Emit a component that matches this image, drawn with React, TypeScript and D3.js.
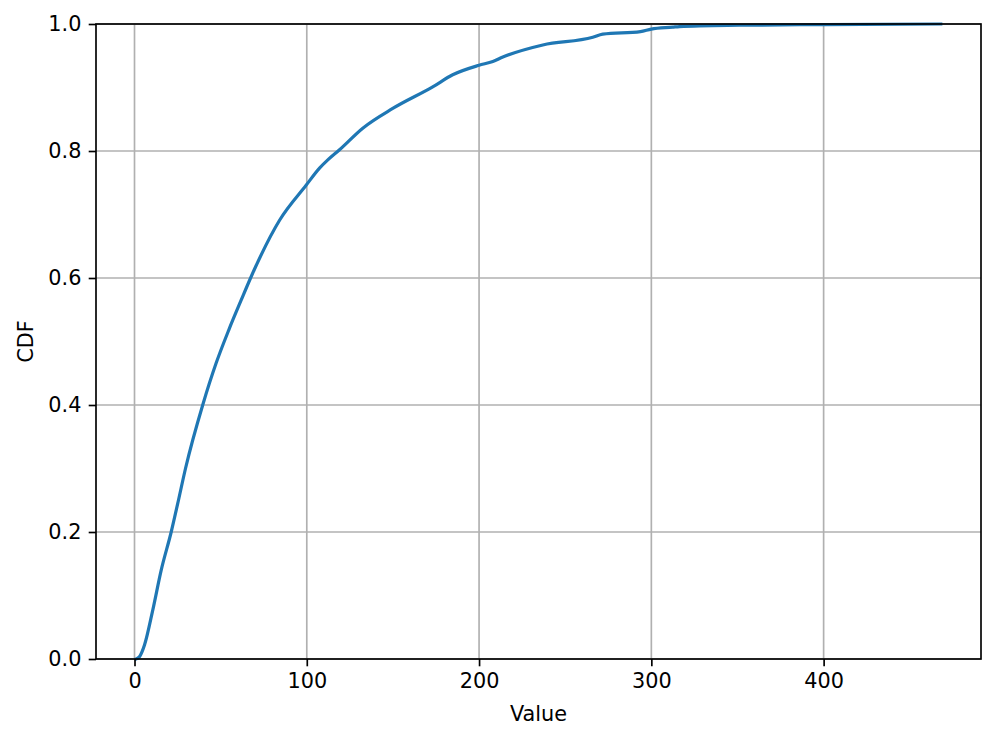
import * as d3 from "d3";
import { useEffect, useRef } from "react";

// points
const values = [1, 3, 5.8, 10.6, 15.5, 21.3, 25.1, 29.6, 39.6, 47.4, 54.7, 61.9, 67.7, 84.2, 99.6, 107.4, 112.2, 119, 132.5, 149.9, 173.1, 184.7, 200, 208, 213.8, 237, 266, 271.8, 293.7, 300, 312.4, 316.3, 351, 400, 468];
const cdf = [0, 0.004, 0.022, 0.077, 0.14, 0.2, 0.245, 0.3, 0.4, 0.466, 0.518, 0.565, 0.602, 0.691, 0.746, 0.773, 0.786, 0.802, 0.836, 0.867, 0.901, 0.92, 0.935, 0.941, 0.948, 0.967, 0.979, 0.984, 0.988, 0.992, 0.995, 0.996, 0.998, 0.999, 1.0];

const xTicks = [0, 100, 200, 300, 400];
const yTicks = [0, 0.2, 0.4, 0.6, 0.8, 1.0];

function App() {
    const ref = useRef<SVGSVGElement>(null);

    useEffect(() => {
        const svg = d3.select(ref.current);
        svg.selectAll("*").remove();

        const width = 997;
        const height = 742;
        const margin = { top: 24, right: 16, bottom: 83, left: 96 };
        const plotW = width - margin.left - margin.right;
        const plotH = height - margin.top - margin.bottom;
        const font = "DejaVu Sans, sans-serif";
        const fs = 20.8;

        svg.attr("width", width).attr("height", height);

        const g = svg
            .append("g")
            .attr("transform", `translate(${margin.left},${margin.top})`);

        const [lo, hi] = d3.extent(values) as [number, number];
        const pad = (hi - lo) * 0.05;

        const x = d3.scaleLinear().domain([lo - pad, hi + pad]).range([0, plotW]);
        const y = d3.scaleLinear().domain([0, 1]).range([plotH, 0]);

        // grid
        g.selectAll(".gx")
            .data(xTicks)
            .enter()
            .append("line")
            .attr("x1", d => x(d))
            .attr("x2", d => x(d))
            .attr("y1", 0)
            .attr("y2", plotH)
            .attr("stroke", "#b0b0b0")
            .attr("stroke-width", 1.67);

        g.selectAll(".gy")
            .data(yTicks)
            .enter()
            .append("line")
            .attr("x1", 0)
            .attr("x2", plotW)
            .attr("y1", d => y(d))
            .attr("y2", d => y(d))
            .attr("stroke", "#b0b0b0")
            .attr("stroke-width", 1.67);

        // curve
        const pts = values.map((v, i) => [v, cdf[i]] as [number, number]);
        const line = d3
            .line<[number, number]>()
            .x(d => x(d[0]))
            .y(d => y(d[1]))
            .curve(d3.curveMonotoneX);

        g.append("path")
            .datum(pts)
            .attr("d", line)
            .attr("fill", "none")
            .attr("stroke", "#1f77b4")
            .attr("stroke-width", 3.2)
            .attr("stroke-linejoin", "round")
            .attr("stroke-linecap", "square");

        // axes
        const xAxis = g
            .append("g")
            .attr("transform", `translate(0,${plotH})`)
            .call(d3.axisBottom(x).tickValues(xTicks).tickSize(7.3).tickPadding(7.3).tickFormat(d3.format("d")));

        const yAxis = g
            .append("g")
            .call(d3.axisLeft(y).tickValues(yTicks).tickSize(7.3).tickPadding(7.3).tickFormat(d3.format(".1f")));

        [xAxis, yAxis].forEach(ax => {
            ax.select(".domain").remove();
            ax.selectAll("line").attr("stroke", "#000").attr("stroke-width", 1.67);
            ax.selectAll("text")
                .attr("fill", "#000")
                .style("font-family", font)
                .style("font-size", `${fs}px`);
        });

        // spines
        g.append("rect")
            .attr("x", 0)
            .attr("y", 0)
            .attr("width", plotW)
            .attr("height", plotH)
            .attr("fill", "none")
            .attr("stroke", "#000")
            .attr("stroke-width", 1.67);

        // labels
        svg
            .append("text")
            .attr("x", margin.left + plotW / 2)
            .attr("y", 721)
            .attr("text-anchor", "middle")
            .style("font-family", font)
            .style("font-size", `${fs}px`)
            .text("Value");

        svg
            .append("text")
            .attr("transform", "rotate(-90)")
            .attr("x", -(margin.top + plotH / 2))
            .attr("y", 33)
            .attr("text-anchor", "middle")
            .style("font-family", font)
            .style("font-size", `${fs}px`)
            .text("CDF");
    }, []);

    return (
        <div style={{ position: "absolute", left: 0, top: 0 }}>
            <svg ref={ref} style={{ display: "block" }} />
        </div>
    );
}

export default App;
